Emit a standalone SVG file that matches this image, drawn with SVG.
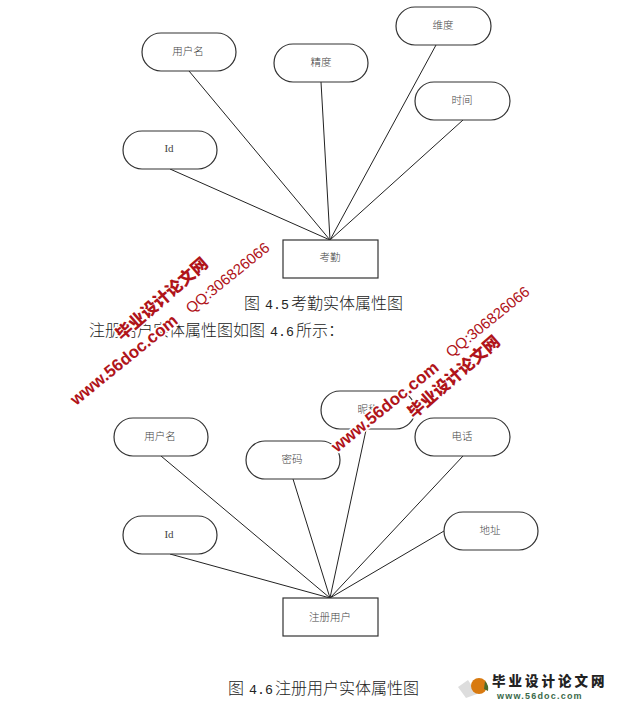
<svg xmlns="http://www.w3.org/2000/svg" width="621" height="705" viewBox="0 0 621 705">
<style>
.n{fill:#fff;stroke:#333;stroke-width:1.2}
.l{stroke:#222;stroke-width:1;fill:none}
.t{font-family:"Noto Sans CJK SC","Liberation Serif",serif;font-size:10.5px;font-weight:300;fill:#444;text-anchor:middle}
.i{font-family:"Liberation Serif",serif;font-size:11px;fill:#444;text-anchor:middle}
.c{font-family:"Noto Sans CJK SC",serif;font-size:16px;font-weight:300;fill:#222}
.d{font-family:"Liberation Mono",monospace;font-size:13.3px}
.w{font-family:"Liberation Sans",sans-serif;font-weight:bold;font-size:17px;fill:#b0141a;stroke:#fff;stroke-width:3;paint-order:stroke}
.q{font-family:"Liberation Sans",sans-serif;font-size:15px;fill:#b0141a;stroke:#fff;stroke-width:3;paint-order:stroke}
.wc{font-family:"Noto Sans CJK SC",sans-serif;font-weight:900;font-size:16.5px;fill:#b0141a;stroke:#fff;stroke-width:3;paint-order:stroke}
</style>
<rect width="621" height="705" fill="#fff"/>
<g id="connectors">
<line class="l" x1="189" y1="71" x2="330" y2="240"/>
<line class="l" x1="321" y1="82" x2="330" y2="240"/>
<line class="l" x1="436" y1="45" x2="330" y2="240"/>
<line class="l" x1="463" y1="120" x2="330" y2="240"/>
<line class="l" x1="170" y1="169" x2="330" y2="240"/>
<line class="l" x1="161" y1="456" x2="330" y2="598"/>
<line class="l" x1="293" y1="479" x2="330" y2="598"/>
<line class="l" x1="366" y1="430" x2="330" y2="598"/>
<line class="l" x1="463" y1="456" x2="330" y2="598"/>
<line class="l" x1="444" y1="531" x2="330" y2="598"/>
<line class="l" x1="170" y1="554" x2="330" y2="598"/>
</g>
<g id="n1"><rect class="n" x="142" y="33" width="94" height="38" rx="19"/><text class="t" x="188" y="55">用户名</text></g>
<g id="n2"><rect class="n" x="274" y="44" width="94" height="38" rx="19"/><text class="t" x="321" y="66">精度</text></g>
<g id="n3"><rect class="n" x="396" y="7" width="95" height="38" rx="19"/><text class="t" x="443" y="29">维度</text></g>
<g id="n4"><rect class="n" x="415" y="82" width="95" height="38" rx="19"/><text class="t" x="462" y="104">时间</text></g>
<g id="n5"><rect class="n" x="123" y="131" width="94" height="38" rx="19"/><text class="i" x="169" y="152">Id</text></g>
<g id="n6"><rect class="n" x="283" y="240" width="95" height="38"/><text class="t" x="330" y="261">考勤</text></g>
<g id="n7"><rect class="n" x="114" y="418" width="94" height="38" rx="19"/><text class="t" x="160" y="440">用户名</text></g>
<g id="n8"><rect class="n" x="246" y="441" width="94" height="38" rx="19"/><text class="t" x="292" y="463">密码</text></g>
<g id="n9"><rect class="n" x="321" y="391" width="94" height="38" rx="19"/><text class="t" x="368" y="413">昵称</text></g>
<g id="n10"><rect class="n" x="415" y="418" width="95" height="38" rx="19"/><text class="t" x="462" y="440">电话</text></g>
<g id="n11"><rect class="n" x="444" y="512" width="94" height="38" rx="19"/><text class="t" x="490" y="534">地址</text></g>
<g id="n12"><rect class="n" x="123" y="516" width="94" height="38" rx="19"/><text class="i" x="169" y="538">Id</text></g>
<g id="n13"><rect class="n" x="283" y="598" width="95" height="38"/><text class="t" x="330" y="621">注册用户</text></g>
<text class="c" x="244" y="309">图 <tspan class="d" x="265">4.5</tspan><tspan x="291">考勤实体属性图</tspan></text>
<text class="c" x="89" y="336">注册用户实体属性图如图<tspan class="d" x="270">4.6</tspan><tspan x="296">所示：</tspan></text>
<text class="c" x="228" y="694">图 <tspan class="d" x="249">4.6</tspan><tspan x="275">注册用户实体属性图</tspan></text>
<g id="watermarks">
<text class="w" transform="translate(76 406) rotate(-39)">www.56doc.com</text>
<text class="wc" transform="translate(122 341) rotate(-41)">毕业设计论文网</text>
<text class="q" transform="translate(191 314) rotate(-39)">QQ:306826066</text>
<text class="w" transform="translate(337 453) rotate(-39)">www.56doc.com</text>
<text class="wc" transform="translate(414 419) rotate(-41)">毕业设计论文网</text>
<text class="q" transform="translate(451 358) rotate(-39)">QQ:306826066</text>
</g>
<g id="logo">
<polygon points="458,687 468,680 477,694 466,698" fill="#ddd"/>
<circle cx="479" cy="686" r="8" fill="#d87a10"/>
<path d="M485 681q4 4 3 10l-4-2z" fill="#4c6b2a"/>
<text x="492" y="686" font-family="Noto Sans CJK SC,sans-serif" font-weight="900" font-size="13.5" letter-spacing="3" fill="#222">毕业设计论文网</text>
<text x="497" y="699" font-family="Liberation Sans,sans-serif" font-weight="bold" font-size="9" letter-spacing="1.2" fill="#3a6a4a">www.56doc.com</text>
</g>
</svg>
